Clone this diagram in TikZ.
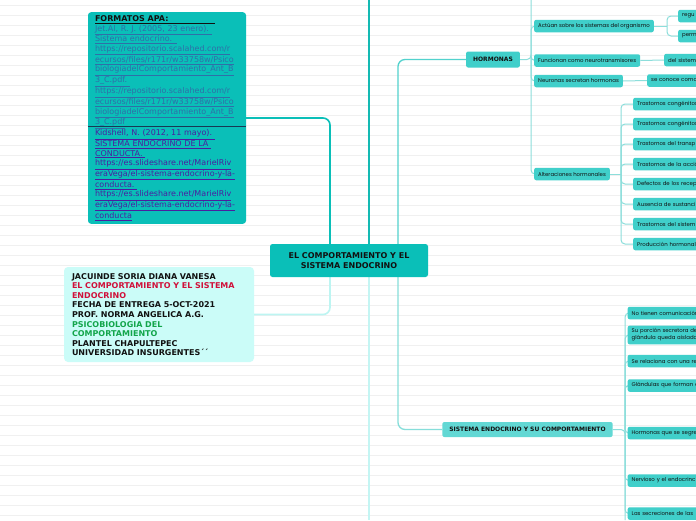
\documentclass[tikz,border=0pt]{standalone}
\usepackage{fontspec}
\setmainfont{DejaVu Sans}
\newfontfamily\leaffont{Poppins}
\usetikzlibrary{backgrounds}
\definecolor{ink}{HTML}{111111}
\definecolor{deepteal}{HTML}{0ABFB8}
\definecolor{paleaqua}{HTML}{CBFCF8}
\definecolor{turq}{HTML}{40CFCA}
\definecolor{turqlt}{HTML}{62D8D4}
\definecolor{linkblue}{HTML}{2F6FA8}
\definecolor{linkviolet}{HTML}{4A1FA0}
\definecolor{crimson}{HTML}{D0103A}
\definecolor{leafgreen}{HTML}{12A54A}
\definecolor{rule}{HTML}{F0F0F0}
\definecolor{wire}{HTML}{8CDEDB}
\definecolor{wirehi}{HTML}{52D2CD}
\definecolor{wirelo}{HTML}{86DEDA}
\definecolor{trunkhi}{HTML}{14BAB3}
\definecolor{trunklo}{HTML}{C4F5F3}
\definecolor{paleline}{HTML}{BDF5F2}
\newcommand\lnk[1]{\underline{#1}}
\tikzset{
  every node/.style={text=ink},
  root/.style={fill=deepteal,rounded corners=2.5pt,align=center,font=\bfseries\fontsize{8}{9.6}\selectfont,minimum width=158pt,minimum height=33pt,inner sep=0},
  refbox/.style={fill=deepteal,rounded corners=3pt,minimum width=158pt,minimum height=200pt,text width=144pt,align=left,inner xsep=7pt,font=\fontsize{8}{9.6}\selectfont},
  infobox/.style={fill=paleaqua,rounded corners=4pt,minimum width=190pt,minimum height=95pt,text width=174pt,align=left,inner xsep=8pt,font=\bfseries\fontsize{8}{9.6}\selectfont},
  topic/.style={fill=turq,rounded corners=2pt,font=\bfseries\fontsize{6}{7}\selectfont,minimum height=16pt,inner xsep=7pt,inner ysep=0},
  leaf/.style={fill=turq,rounded corners=2pt,font=\leaffont\fontsize{5.4}{7}\selectfont,minimum height=12.5pt,inner xsep=4pt,inner ysep=0,anchor=west,text=ink},
  cut/.style={text width=#1,align=left},
  conn/.style={line width=1.6pt,rounded corners=7pt},
  twig/.style={draw=wire,line width=1pt,rounded corners=4pt}
}

\begin{document}
\begin{tikzpicture}[x=1pt,y=-1pt]
  \path[use as bounding box] (0,0) rectangle (696,520);
  \clip (0,0) rectangle (696,520);
  \coordinate (trunktop) at (369,0);
  \coordinate (trunkbot) at (369,520);
  \coordinate (ljoin) at (330,0);
  \coordinate (rjoin) at (398,0);

  \begin{scope}[on background layer]
    \fill[white] (0,0) rectangle (696,520);
    \foreach \y in {5,15,...,515} {\draw[rule,line width=.7pt] (0,\y) -- (696,\y);}
  \end{scope}

  % centre and the two boxes on the left
  \node[root] (root) at (349,260.5) {EL COMPORTAMIENTO Y EL\\SISTEMA ENDOCRINO};

  \node[refbox] (fmt) at (167,118) {\textbf{\lnk{FORMATOS APA:\hspace{46pt}}}\\
    \color{linkblue}\lnk{Jet.Al, R. J. (2005, 23 enero).\ }\\
    \lnk{Sistema endocrino.\ \ }\\
    \lnk{https://repositorio.scalahed.com/r}\\
    \lnk{ecursos/files/r171r/w33758w/Psico}\\
    \lnk{biologiadelComportamiento\_Ant\_B}\\
    \lnk{3\_C.pdf.\ }\\
    \lnk{https://repositorio.scalahed.com/r}\\
    \lnk{ecursos/files/r171r/w33758w/Psico}\\
    \lnk{biologiadelComportamiento\_Ant\_B}\\
    \lnk{3\_C.pdf}\\
    \color{linkviolet}\lnk{Kidshell, N. (2012, 11 mayo).\ }\\
    \lnk{SISTEMA ENDOCRINO DE LA\ }\\
    \lnk{CONDUCTA.\ }\\
    \lnk{https://es.slideshare.net/MarielRiv}\\
    \lnk{eraVega/el-sistema-endocrino-y-la-}\\
    \lnk{conducta.\ }\\
    \lnk{https://es.slideshare.net/MarielRiv}\\
    \lnk{eraVega/el-sistema-endocrino-y-la-}\\
    \lnk{conducta}};
  \draw[linkblue!50!black,line width=.7pt] (fmt.west |- 0,126.5) -- (fmt.east |- 0,126.5);

  \node[infobox] (info) at (159,314.5) {JACUINDE SORIA DIANA VANESA\\
    \textcolor{crimson}{EL COMPORTAMIENTO Y EL SISTEMA}\\
    \textcolor{crimson}{ENDOCRINO}\\
    FECHA DE ENTREGA 5-OCT-2021\\
    PROF. NORMA ANGELICA A.G.\\
    \textcolor{leafgreen}{PSICOBIOLOGIA DEL}\\
    \textcolor{leafgreen}{COMPORTAMIENTO}\\
    PLANTEL CHAPULTEPEC\\
    UNIVERSIDAD INSURGENTES´´};

  % right side: hormonas
  \node[topic] (horm) at (493,59.5) {HORMONAS};
  \coordinate (hfork) at (531,59.5);
  \coordinate (hup) at (531,0);
  \node[leaf] (act) at (534,26) {Actúan sobre los sistemas del organismo};
  \node[leaf] (func) at (534,60.5) {Funcionan como neurotransmisores};
  \node[leaf] (neur) at (534,81) {Neuronas secretan hormonas};
  \node[leaf] (alt) at (534,174) {Alteraciones hormonales};
  \coordinate (afork) at (667,26);
  \node[leaf,cut=60pt] (regu) at (678,16) {regu};
  \node[leaf,cut=60pt] (perm) at (678,36) {perm};
  \node[leaf,cut=60pt] (delsis) at (664,60) {del sistem};
  \node[leaf,cut=80pt] (secon) at (647,80.5) {se conoce como};
  \coordinate (altfork) at (621,174);
  \foreach \txt [count=\i] in {Trastornos congénitos,Trastornos congénitos,Trastornos del transp,Trastornos de la acció,Defectos de los recep,Ausencia de sustanci,Trastornos del sistem,Producción hormonal}
    {\node[leaf,cut=80pt] (alt\i) at (633,{84+20*\i}) {\txt};}

  % right side: sistema endocrino
  \node[topic,fill=turqlt,minimum height=15pt] (sys) at (527.5,429.5) {SISTEMA ENDOCRINO Y SU COMPORTAMIENTO};
  \coordinate (sfork) at (625,429.5);
  \coordinate (sdown) at (625,520);
  \node[leaf,cut=80pt] (s1) at (627.5,313) {No tienen comunicación};
  \node[leaf,cut=80pt,inner ysep=3pt] (s2) at (627.5,335) {Su porción secretora de\\glándula queda aislada};
  \node[leaf,cut=80pt] (s3) at (627.5,361) {Se relaciona con una re};
  \node[leaf,cut=80pt] (s4) at (627.5,385.5) {Glándulas que forman e};
  \node[leaf,cut=80pt] (s5) at (627.5,433) {Hormonas que se segre};
  \node[leaf,cut=80pt] (s6) at (627.5,480.5) {Nervioso y el endocrinc};
  \node[leaf,cut=80pt] (s7) at (627.5,513.5) {Las secreciones de las};

  \begin{scope}[on background layer]
    \draw[line width=1.8pt,trunkhi] (trunktop) -- (trunktop |- root.center);
    \draw[line width=1.8pt,trunklo] (trunkbot |- root.center) -- (trunkbot);
    \draw[conn,draw=deepteal] (fmt.east) -| (ljoin |- root.north);
    \draw[conn,draw=paleline] (info.east) -| (ljoin |- root.south);
    \draw[conn,line width=1.3pt,draw=wirehi] (rjoin |- root.center) |- (horm.west);
    \draw[conn,line width=1.3pt,draw=wirelo] (rjoin |- root.center) |- (sys.west);
    \draw[twig] (horm.east) -- (hfork) -- (hup);
    \foreach \n in {act,func,neur,alt} {\draw[twig] (hfork) |- (\n.west);}
    \draw[twig] (act.east) -- (afork);
    \draw[twig] (afork) |- (regu.west);
    \draw[twig] (afork) |- (perm.west);
    \draw[twig] (func.east) -- (delsis.west);
    \draw[twig] (neur.east) -- (secon.west);
    \draw[twig] (alt.east) -- (altfork);
    \foreach \i in {1,...,8} {\draw[twig] (altfork) |- (alt\i.west);}
    \draw[twig] (sys.east) -- (sfork) -- (sdown);
    \foreach \i in {1,...,7} {\draw[twig] (sfork) |- (s\i.west);}
  \end{scope}
\end{tikzpicture}
\end{document}
